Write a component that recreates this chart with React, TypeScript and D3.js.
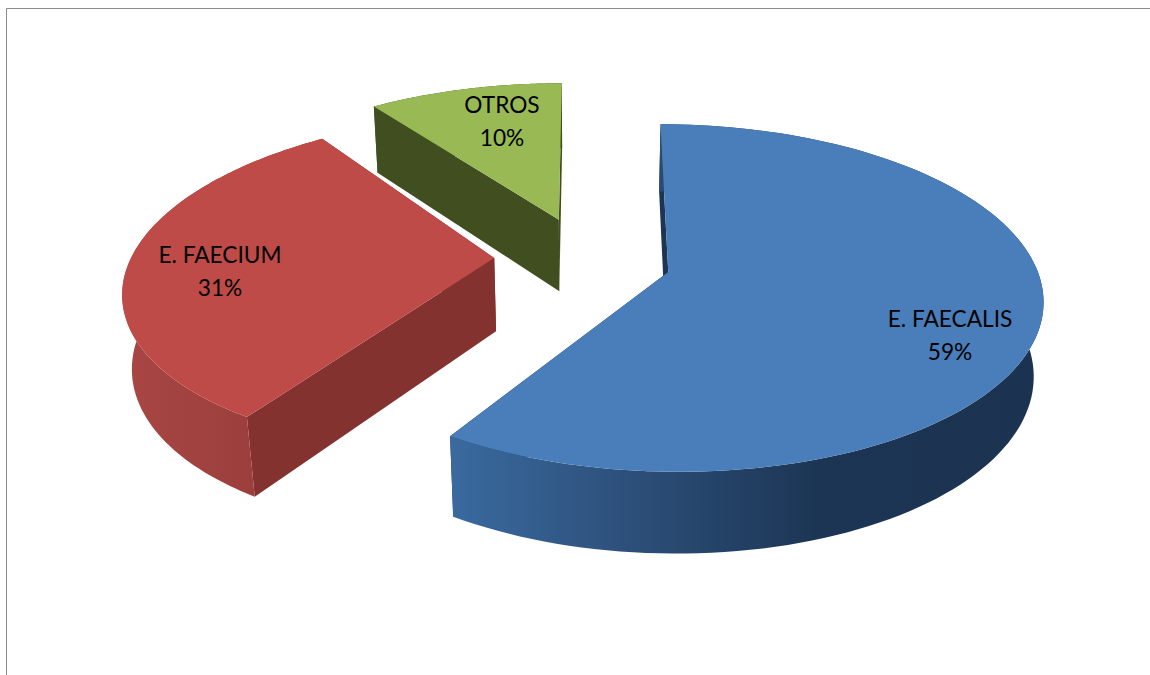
import React from "react";
import * as d3 from "d3";

// Share of isolates per species
const categories = ["E. FAECALIS", "E. FAECIUM", "OTROS"];
const shares = [59, 31, 10];
const labels = ["59%", "31%", "10%"];

// Face colours per slice
const topColors = ["#4a7ebb", "#be4b48", "#98b954"];
const wallColors = ["#1c3554", "#84322f", "#414f20"];
const sideStops = [
  [["0", "#3a6a9f"], ["0.25", "#2f5480"], ["0.62", "#1c3554"], ["1", "#1b3350"]],
  [["0", "#a84644"], ["0.75", "#9a3e3b"], ["1", "#8a3533"]],
  [["0", "#414f20"], ["1", "#414f20"]],
];

// Slice displacement on the pie plane, slice radius and sideways lean of its rim
const sliceOffsets = [[0.231, -0.06], [-0.238, 0.0226], [-0.065, 0.26]];
const sliceRadii = [0.99, 0.985, 1];
const sliceLean = [0.011, 0.036, 0];

// Where each two-line label is anchored
const labelCenters = [[950, 327], [220, 263], [502, 113]];

const W = 1150;
const H = 675;

// Perspective view of the pie plane: depth shrinks the far side, and the
// lower rim sits a thickness below with a slight extra recession.
const view = { cx: 582, cy: 261.8, rx: 370, ry: 168.5, depth: 0.15, drop: 75, dropDepth: 0.021 };

type P = [number, number];

function project(u: number, v: number, lower: boolean): P {
  const d = 1 + view.depth * v + (lower ? view.dropDepth : 0);
  return [
    view.cx + (view.rx * u) / d,
    view.cy - (view.ry * v - (lower ? view.drop : 0)) / d,
  ];
}

const rim = (i: number, a: number, lower: boolean): P => {
  const [ou, ov] = sliceOffsets[i];
  const r = sliceRadii[i];
  return project(
    ou + r * Math.sin(a) + sliceLean[i] * r * Math.cos(a),
    ov + r * Math.cos(a),
    lower,
  );
};

const hub = (i: number, lower: boolean): P =>
  project(sliceOffsets[i][0], sliceOffsets[i][1], lower);

const path = d3.line<P>().x((p) => p[0]).y((p) => p[1]);

const arcs = d3
  .pie<number>()
  .sort(null)
  .startAngle(0)
  .endAngle(2 * Math.PI)(shares);

function sliceFaces(i: number) {
  const { startAngle: a0, endAngle: a1 } = arcs[i];
  const steps = d3.range(0, 121).map(d3.scaleLinear([0, 120], [a0, a1]));
  const upper = steps.map((a) => rim(i, a, false));
  const lower = steps.map((a) => rim(i, a, true));
  return {
    top: path([hub(i, false), ...upper])! + "Z",
    side: path([...upper, ...lower.slice().reverse()])! + "Z",
    cutStart: path([hub(i, false), upper[0], lower[0], hub(i, true)])! + "Z",
    cutEnd: path([hub(i, false), upper[120], lower[120], hub(i, true)])! + "Z",
    xMin: d3.min(upper, (p) => p[0])!,
    xMax: d3.max(upper, (p) => p[0])!,
  };
}

export default function App() {
  const faces = categories.map((_, i) => sliceFaces(i));
  const textFont = "Lato, 'Open Sans', sans-serif";
  return (
    <svg
      width={W}
      height={H}
      viewBox={`0 0 ${W} ${H}`}
      style={{ position: "fixed", left: 0, top: 0, background: "#fff" }}
    >
      <defs>
        {faces.map((f, i) => (
          <linearGradient
            key={i}
            id={`side-${i}`}
            gradientUnits="userSpaceOnUse"
            x1={f.xMin}
            x2={f.xMax}
            y1={0}
            y2={0}
          >
            {sideStops[i].map(([o, c]) => (
              <stop key={o} offset={o} stopColor={c} />
            ))}
          </linearGradient>
        ))}
      </defs>

      {/* Chart area border: only the top and left edges fall on the page */}
      <path d={`M6.5 ${H}V8.5H${W}`} fill="none" stroke="#8c8c8c" strokeWidth={1} />

      {faces.map((f, i) => (
        <g key={categories[i]}>
          <path d={f.cutStart} fill={wallColors[i]} />
          <path d={f.cutEnd} fill={wallColors[i]} />
          <path d={f.side} fill={`url(#side-${i})`} />
          <path d={f.top} fill={topColors[i]} />
        </g>
      ))}

      {categories.map((c, i) => (
        <text
          key={c}
          textAnchor="middle"
          fontFamily={textFont}
          fontSize={22.7}
          fill="#000"
          x={labelCenters[i][0]}
          y={labelCenters[i][1]}
        >
          <tspan x={labelCenters[i][0]}>{c}</tspan>
          <tspan x={labelCenters[i][0]} dy={33}>{labels[i]}</tspan>
        </text>
      ))}
    </svg>
  );
}
